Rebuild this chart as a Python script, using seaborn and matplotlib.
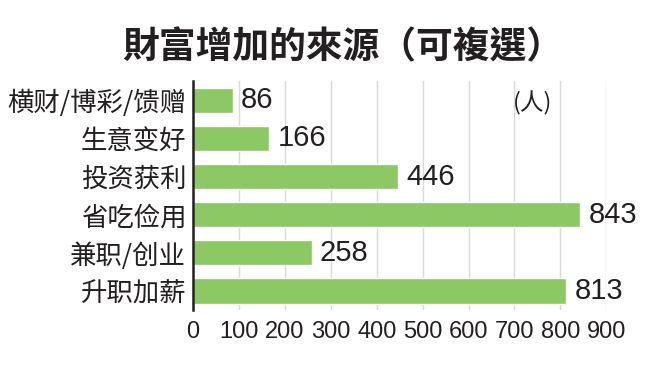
import matplotlib
matplotlib.use("Agg")
import matplotlib.pyplot as plt
import seaborn as sns
import pandas as pd
from matplotlib import font_manager

categories = ["横财/博彩/馈赠", "生意变好", "投资获利", "省吃俭用", "兼职/创业", "升职加薪"]
values = [86, 166, 446, 843, 258, 813]
ticks = [0, 100, 200, 300, 400, 500, 600, 700, 800, 900]
title = "財富增加的來源（可複選）"
unit = "(人)"

sns.set_theme(style="white")
plt.rcParams['font.family'] = ['Noto Sans CJK SC', 'DejaVu Sans']

names = {f.name for f in font_manager.fontManager.ttflist}
narrow = "Liberation Sans Narrow" if "Liberation Sans Narrow" in names else "Liberation Sans"

df = pd.DataFrame({"cat": categories, "val": values})

fig = plt.figure(figsize=(6.59, 3.66), dpi=100)
ax = fig.add_axes([0.293, 0.153, 0.627, 0.625])
sns.barplot(data=df, x="val", y="cat", color="#8cc864", saturation=1, width=0.66, ax=ax)

ax.set_xlim(0, 900)
ax.set_xticks(ticks)
ax.set_xticklabels([str(t) for t in ticks], fontfamily=narrow, fontsize=17, color="#231f20")
ax.tick_params(axis="x", length=0, pad=8)
ax.tick_params(axis="y", length=0, pad=5)
for lab in ax.get_yticklabels():
    lab.set_fontsize(19)
    lab.set_color("#231f20")
ax.set_xlabel("")
ax.set_ylabel("")
ax.xaxis.grid(True, color="#d9d9d9", linewidth=1)
ax.set_axisbelow(True)
for s in ["top", "right", "bottom"]:
    ax.spines[s].set_visible(False)
ax.spines["left"].set_color("#231f20")
ax.spines["left"].set_linewidth(1.8)

for i, v in enumerate(values):
    ax.text(v + 18, i, str(v), va="center", ha="left", fontsize=21,
            fontfamily="Liberation Sans", color="#231f20")

ax.text(0.775, 0.905, unit, transform=ax.transAxes, fontsize=17, color="#231f20",
        fontfamily=["Noto Sans CJK SC"], va="center", ha="left")

fig.text(0.52, 0.87, title, ha="center", va="center", fontsize=26.5, fontweight="bold",
         color="#231f20", fontfamily=["Noto Sans CJK TC", "Noto Sans CJK SC"])

fig.savefig("out.png", dpi=100, facecolor="white")
